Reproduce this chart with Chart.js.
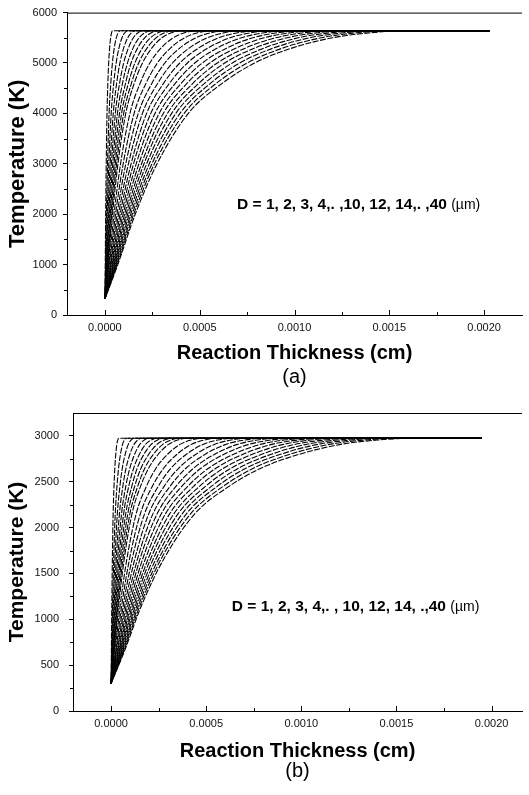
<!DOCTYPE html>
<html>
<head>
<meta charset="utf-8">
<script src="https://cdn.jsdelivr.net/npm/chart.js@4.4.1/dist/chart.umd.min.js"></script>
<style>
  html, body { margin: 0; padding: 0; background: #fff; }
  canvas { display: block; }
</style>
</head>
<body>
<canvas id="chartA" width="529" height="389"></canvas>
<canvas id="chartB" width="529" height="406"></canvas>
<script>
// particle diameters (um), one curve each
const diameters = [1, 2, 3, 4, 5, 6, 7, 8, 9, 10, 12, 14, 16, 18, 20, 22, 24, 26, 28, 30, 32, 34, 36, 38, 40];

// reaction thickness (units of 1e-6 cm) where each curve reaches the temperature levels below
const thickness = [
  [0, 1.7, 4, 6.9, 11, 15.5, 19.8, 24.8, 30, 35, 40],
  [0, 3.4, 8, 13.8, 22, 31, 39.5, 49.5, 60, 70, 80],
  [0, 5.1, 12, 20.6, 33, 46.5, 59.3, 74.3, 90, 105, 120],
  [0, 6.8, 16, 27.5, 44, 62, 79, 99, 120, 140, 160],
  [0, 8.5, 20, 34.4, 55, 77.5, 98.8, 124, 150, 175, 200],
  [0, 10.2, 24, 41.3, 66, 93, 119, 149, 180, 210, 240],
  [0, 11.9, 28, 48.1, 77, 109, 138, 173, 210, 245, 280],
  [0, 13.6, 32, 55, 88, 124, 158, 198, 240, 280, 320],
  [0, 15.3, 36, 61.9, 99, 140, 178, 223, 270, 315, 360],
  [0, 17, 40, 68.8, 110, 155, 198, 248, 300, 350, 400],
  [0, 20.4, 48, 82.5, 132, 186, 237, 297, 360, 420, 480],
  [0, 23.8, 56, 96.3, 154, 217, 277, 347, 420, 490, 560],
  [0, 27.2, 64, 110, 176, 248, 316, 396, 480, 560, 640],
  [0, 30.6, 72, 124, 198, 279, 356, 446, 540, 630, 720],
  [0, 34, 80, 138, 220, 310, 395, 495, 600, 700, 800],
  [0, 37.4, 88, 151, 242, 341, 435, 545, 660, 770, 880],
  [0, 40.8, 96, 165, 264, 372, 474, 594, 720, 840, 960],
  [0, 44.2, 104, 179, 286, 403, 514, 644, 780, 910, 1040],
  [0, 47.6, 112, 193, 308, 434, 553, 693, 840, 980, 1120],
  [0, 51, 120, 206, 330, 465, 593, 743, 900, 1050, 1200],
  [0, 54.4, 128, 220, 352, 496, 632, 792, 960, 1120, 1280],
  [0, 57.8, 136, 234, 374, 527, 672, 842, 1020, 1190, 1360],
  [0, 61.2, 144, 248, 396, 558, 711, 891, 1080, 1260, 1440],
  [0, 64.6, 152, 261, 418, 589, 751, 941, 1140, 1330, 1520],
  [0, 68, 160, 275, 440, 620, 790, 990, 1200, 1400, 1600]
];

// temperature levels (K) for panel (a) and (b)
const tempA = [320, 1000, 2000, 3000, 4000, 4600, 5000, 5300, 5500, 5600, 5640];
const tempB = [300, 640, 1150, 1650, 2150, 2450, 2650, 2800, 2905, 2955, 2975];
// where the flat plateau lines stop (1e-6 cm)
const endA = 2030;
const endB = 1950;

// tick labels
const xTicks = [0, 0.0005, 0.001, 0.0015, 0.002];
const yTicksA = [0, 1000, 2000, 3000, 4000, 5000, 6000];
const yTicksB = [0, 500, 1000, 1500, 2000, 2500, 3000];

const noteA = "D = 1, 2, 3, 4,. ,10, 12, 14,. ,40 ";
const noteB = "D = 1, 2, 3, 4,. , 10, 12, 14, .,40 ";

const FONT = "'Liberation Sans', Arial, sans-serif";

function buildSets(temps, endX) {
  const top = temps[temps.length - 1];
  return thickness.map((row, i) => ({
    label: "D = " + diameters[i],
    data: row.map((t, k) => ({ x: t * 1e-6, y: temps[k] })).concat([{ x: endX * 1e-6, y: top }]),
    borderColor: "#000",
    borderWidth: 1.1,
    borderDash: [6, 1.5],
    borderDashOffset: (i * 2.3) % 7.5,
    pointRadius: 0,
    fill: false,
    cubicInterpolationMode: "monotone"
  }));
}

// top frame, inward x ticks, minor ticks, D = ... note
const frameTicks = {
  id: "frameTicks",
  afterDraw(chart, args, opts) {
    const { ctx, chartArea: a, scales: { x, y } } = chart;
    ctx.save();
    ctx.strokeStyle = "#000";
    ctx.lineWidth = 1;
    ctx.beginPath();
    ctx.moveTo(a.left, a.top + 0.5);
    ctx.lineTo(a.right, a.top + 0.5);
    x.ticks.forEach(t => {
      const px = Math.round(x.getPixelForValue(t.value)) + 0.5;
      ctx.moveTo(px, a.bottom);
      ctx.lineTo(px, a.bottom - 5);
      const pm = Math.round(x.getPixelForValue(t.value + opts.xMinor)) + 0.5;
      if (pm < a.right - 2) {
        ctx.moveTo(pm, a.bottom);
        ctx.lineTo(pm, a.bottom - 3);
      }
    });
    y.ticks.forEach(t => {
      const py = Math.round(y.getPixelForValue(t.value + opts.yMinor)) + 0.5;
      if (py > a.top + 2) {
        ctx.moveTo(a.left, py);
        ctx.lineTo(a.left - 3, py);
      }
    });
    ctx.stroke();

    const nx = x.getPixelForValue(opts.noteX);
    const ny = y.getPixelForValue(opts.noteY);
    ctx.fillStyle = "#000";
    ctx.textBaseline = "middle";
    ctx.textAlign = "left";
    ctx.font = "bold 15.5px " + FONT;
    ctx.fillText(opts.note, nx, ny);
    const w = ctx.measureText(opts.note).width;
    ctx.font = "14px " + FONT;
    ctx.fillText("(\u00b5m)", nx + w, ny);
    ctx.restore();
  }
};

function makeChart(id, temps, endX, cfg) {
  new Chart(document.getElementById(id), {
    type: "line",
    data: { datasets: buildSets(temps, endX) },
    plugins: [frameTicks],
    options: {
      responsive: false,
      animation: false,
      events: [],
      layout: { padding: { top: cfg.padTop, bottom: cfg.padBottom, left: 0, right: 7 } },
      plugins: {
        legend: { display: false },
        tooltip: { enabled: false },
        title: {
          display: true,
          position: "bottom",
          fullSize: false,
          text: cfg.panel,
          color: "#000",
          padding: 0,
          font: { family: FONT, size: 20, weight: "normal", lineHeight: cfg.panelLine }
        },
        frameTicks: { xMinor: 0.00025, yMinor: cfg.yMinor, noteX: cfg.noteX, noteY: cfg.noteY, note: cfg.note }
      },
      scales: {
        x: {
          type: "linear",
          min: -0.0002,
          max: cfg.xMax,
          grid: { display: false, drawTicks: false },
          border: { color: "#000", width: 1 },
          afterBuildTicks: s => { s.ticks = xTicks.map(v => ({ value: v })); },
          ticks: {
            padding: 6,
            color: "#111",
            font: { family: FONT, size: 11 },
            callback: v => v.toFixed(4)
          },
          title: {
            display: true,
            text: "Reaction Thickness (cm)",
            color: "#000",
            padding: 0,
            font: { family: FONT, size: 20, weight: "bold" }
          },
          afterFit: s => { s.height = cfg.xHeight; }
        },
        y: {
          type: "linear",
          min: 0,
          max: cfg.yMax,
          grid: { drawOnChartArea: false, drawTicks: true, tickLength: 4, color: "#000" },
          border: { color: "#000", width: 1 },
          afterBuildTicks: s => { s.ticks = cfg.yTicks.map(v => ({ value: v })); },
          ticks: {
            padding: cfg.yPad,
            color: "#111",
            font: { family: FONT, size: 11 },
            callback: v => String(v)
          },
          title: {
            display: true,
            text: "Temperature (K)",
            color: "#000",
            padding: { top: 5, bottom: 0 },
            font: { family: FONT, size: cfg.yTitleSize, weight: "bold" }
          },
          afterFit: s => { s.width = cfg.yWidth; }
        }
      }
    }
  });
}

makeChart("chartA", tempA, endA, {
  panel: "(a)", panelLine: 1.2, padTop: 12, padBottom: 0, xHeight: 50, xMax: 0.0022,
  yMax: 6000, yTicks: yTicksA, yMinor: 500, yPad: 6, yWidth: 67, yTitleSize: 22,
  noteX: 0.000697, noteY: 2180, note: noteA
});

makeChart("chartB", tempB, endB, {
  panel: "(b)", panelLine: 0.8, padTop: 24, padBottom: 16, xHeight: 52, xMax: 0.00216,
  yMax: 3250, yTicks: yTicksB, yMinor: 250, yPad: 10, yWidth: 73, yTitleSize: 21,
  noteX: 0.000635, noteY: 1135, note: noteB
});
</script>
</body>
</html>
